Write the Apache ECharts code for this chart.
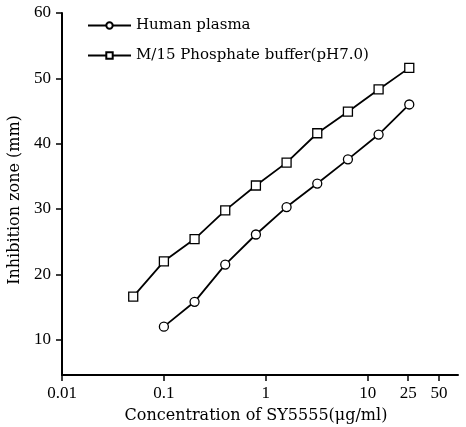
<!DOCTYPE html>
<html>
<head>
<meta charset="utf-8">
<script src="https://cdn.jsdelivr.net/npm/echarts@6/dist/echarts.min.js"></script>
<style>html,body{margin:0;padding:0;background:#fff;}#c{width:466px;height:427px;}</style>
</head>
<body>
<div id="c"></div>
<script>
const seriesNames = ['Human plasma', 'M/15 Phosphate buffer(pH7.0)'];
const plasmaX = [0.1, 0.2, 0.4, 0.8, 1.6, 3.2, 6.4, 12.8, 25.6];
const plasmaY = [12.0, 15.8, 21.5, 26.1, 30.3, 33.9, 37.6, 41.4, 46.0];
const bufferX = [0.05, 0.1, 0.2, 0.4, 0.8, 1.6, 3.2, 6.4, 12.8, 25.6];
const bufferY = [16.6, 22.0, 25.4, 29.8, 33.6, 37.1, 41.6, 44.9, 48.3, 51.6];
const xTicks = [0.01, 0.1, 1, 10, 25, 50];
const yTicks = [10, 20, 30, 40, 50, 60];

const FONT = 'DejaVu Serif';
const NUMFONT = 'Liberation Serif';
const chart = echarts.init(document.getElementById('c'), null, {renderer: 'canvas'});
const pairs = (xs, ys) => xs.map((x, i) => [x, ys[i]]);
chart.setOption({
  animation: false,
  backgroundColor: '#fff',
  textStyle: {fontFamily: FONT, color: '#000'},
  grid: {left: 62, right: 8, top: 13, bottom: 52, containLabel: false, outerBoundsMode: 'none'},
  legend: {
    orient: 'vertical', left: 82, top: 13, itemWidth: 43, itemHeight: 8, itemGap: 15,
    textStyle: {fontFamily: FONT, fontSize: 15, color: '#000'},
    data: seriesNames
  },
  xAxis: {
    type: 'log', logBase: 10, min: 0.01, max: 77,
    name: 'Concentration of SY5555(μg/ml)', nameLocation: 'middle', nameGap: 33,
    nameTextStyle: {fontFamily: FONT, fontSize: 16, color: '#000', padding: [0, 8, 0, 0]},
    axisLine: {lineStyle: {color: '#000', width: 2}},
    axisTick: {show: true, length: 6, lineStyle: {color: '#000', width: 1.5}, customValues: xTicks},
    axisLabel: {fontFamily: NUMFONT, fontSize: 17, color: '#000', margin: 10, customValues: xTicks,
      formatter: v => String(v)},
    splitLine: {show: false}, minorTick: {show: false}
  },
  yAxis: {
    type: 'value', min: 4.6, max: 60,
    name: 'Inhibition zone (mm)', nameLocation: 'middle', nameGap: 37,
    nameTextStyle: {fontFamily: FONT, fontSize: 16, color: '#000', padding: [0, 12, 0, 0]},
    axisLine: {show: true, lineStyle: {color: '#000', width: 2}},
    axisTick: {show: true, length: 6, lineStyle: {color: '#000', width: 1.5}, customValues: yTicks},
    axisLabel: {fontFamily: NUMFONT, fontSize: 17, color: '#000', margin: 11, customValues: yTicks},
    splitLine: {show: false}
  },
  series: [
    {name: seriesNames[0], type: 'line', data: pairs(plasmaX, plasmaY), symbol: 'circle', symbolSize: 9,
      showAllSymbol: true,
      lineStyle: {color: '#000', width: 1.8}, itemStyle: {color: '#fff', borderColor: '#000', borderWidth: 1.3}},
    {name: seriesNames[1], type: 'line', data: pairs(bufferX, bufferY), symbol: 'rect', symbolSize: 9,
      showAllSymbol: true,
      lineStyle: {color: '#000', width: 1.8}, itemStyle: {color: '#fff', borderColor: '#000', borderWidth: 1.3}}
  ]
});
</script>
</body>
</html>
